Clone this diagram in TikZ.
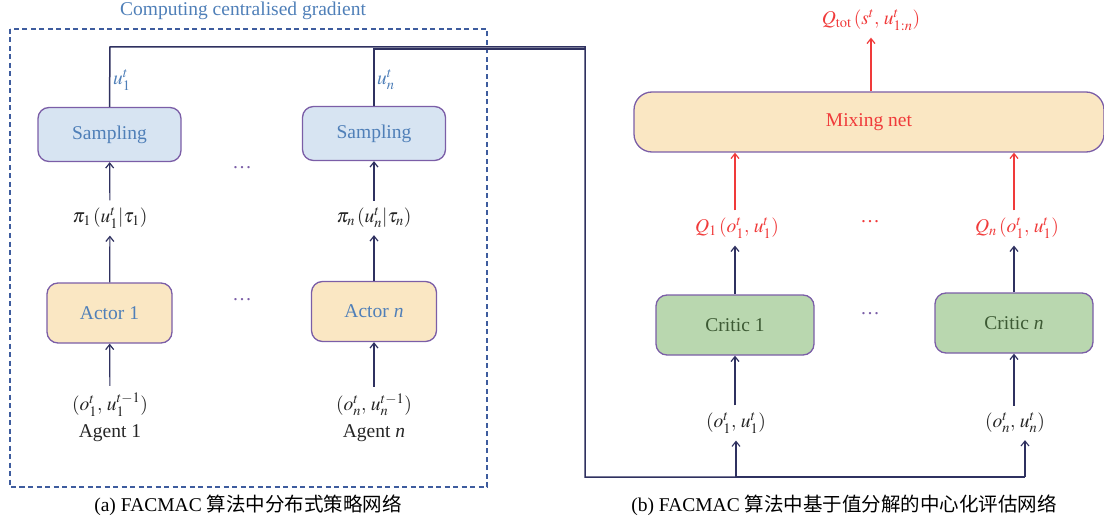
\documentclass[tikz,border=0pt]{standalone}
\usepackage{mathptmx}
\usepackage{fontspec}
\setmainfont{Liberation Serif}
\newfontfamily\cjk{Noto Sans CJK SC}
\usetikzlibrary{arrows.meta}
\definecolor{dashblue}{HTML}{3E5C9E}
\definecolor{txtblue}{HTML}{4F7FB8}
\definecolor{boxborder}{HTML}{7B5EA7}
\definecolor{sampfill}{HTML}{D7E4F2}
\definecolor{actfill}{HTML}{FAE7C3}
\definecolor{critfill}{HTML}{B9D7AF}
\definecolor{critxt}{HTML}{3D5A34}
\definecolor{qred}{HTML}{F03A3A}
\definecolor{lnavy}{HTML}{2F3160}
\tikzset{
  fs/.style={font=\fontsize{19.5}{22}\selectfont},
  nbox/.style={draw=boxborder, line width=1.3pt, rounded corners=11pt, inner sep=0pt, fs},
  sbox/.style={nbox, fill=sampfill, text=txtblue, minimum width=143pt, minimum height=54pt},
  abox/.style={nbox, fill=actfill, text=txtblue, minimum width=125pt, minimum height=60pt},
  cbox/.style={nbox, fill=critfill, text=critxt, minimum width=158pt, minimum height=60pt},
  mbox/.style={nbox, fill=actfill, text=qred, minimum width=470pt, minimum height=60pt, rounded corners=18pt},
  lbl/.style={fs, inner sep=7pt, text=black!85},
  rlbl/.style={lbl, text=qred},
  conn/.style={draw=lnavy, line width=1.2pt, -{Straight Barb[length=5pt,width=8pt]}},
  rconn/.style={conn, draw=qred},
  trunk/.style={draw=lnavy, line width=1.5pt},
  dotsp/.style={fs, text=boxborder},
}
\begin{document}
\begin{tikzpicture}[x=1pt,y=-1pt]
\useasboundingbox (0,0) rectangle (1104,524);
% ---------- left panel ----------
\node[fs, text=txtblue] (title) at (243,11) {Computing centralised gradient};
\draw[dashblue, line width=1.1pt, dash pattern=on 5pt off 3.5pt] (10,29) rectangle (487,487);

\node[sbox] (s1) at (109.5,134.5) {Sampling};
\node[sbox] (sn) at (374,133.5) {Sampling};
\node[abox] (a1) at (109.5,313) {Actor 1};
\node[abox] (an) at (374,311.5) {Actor \textit{n}};

\node[lbl] (p1) at (110,218) {$\pi_1\,(u_1^t|\tau_1)$};
\node[lbl] (pn) at (374,218) {$\pi_n\,(u_n^t|\tau_n)$};
\node[lbl] (o1) at (110,405) {$(o_1^t,\,u_1^{t-1})$};
\node[lbl, inner sep=2pt] (g1) at (110,433) {Agent 1};
\node[lbl] (on) at (374,405) {$(o_n^t,\,u_n^{t-1})$};
\node[lbl, inner sep=2pt] (gn) at (374,433) {Agent \textit{n}};

\node[fs, text=txtblue, anchor=west, inner sep=1pt] (u1) at (112,80) {$u_1^t$};
\node[fs, text=txtblue, anchor=west, inner sep=1pt] (un) at (376,80) {$u_n^t$};

\node[dotsp] (d1) at (242,168) {\dots};
\node[dotsp] (d2) at (242,300) {\dots};

\draw[conn] (o1) -- (a1);
\draw[conn] (on) -- (an);
\draw[conn] (a1) -- (p1);
\draw[conn] (an) -- (pn);
\draw[conn] (p1) -- (s1);
\draw[conn] (pn) -- (sn);

\node[font=\fontsize{19.5}{22}\selectfont] (capa) at (248,505) {(a) FACMAC {\cjk 算法中分布式策略网络}};

% ---------- right panel ----------
\node[mbox] (mix) at (869,122) {Mixing net};
\node[cbox] (c1) at (735,325) {Critic 1};
\node[cbox] (cn) at (1014,323) {Critic \textit{n}};

\node[rlbl] (qt) at (871,20) {$Q_{\mathrm{tot}}\,(s^t,\,u_{1:n}^t)$};
\node[rlbl] (q1) at (737,228) {$Q_1\,(o_1^t,\,u_1^t)$};
\node[rlbl] (qn) at (1017,228) {$Q_n\,(o_1^t,\,u_1^t)$};
\node[fs, text=qred] (d3) at (870,222) {\dots};
\node[dotsp] (d4) at (870,314) {\dots};

\node[lbl] (oc1) at (736,423) {$(o_1^t,\,u_1^t)$};
\node[lbl] (ocn) at (1015,423) {$(o_n^t,\,u_n^t)$};

\coordinate (q1top) at (c1.north |- q1.north);
\coordinate (qntop) at (cn.north |- qn.north);
\draw[rconn] (mix.north -| qt) -- (qt);
\draw[rconn] (q1top) -- (q1top |- mix.south);
\draw[rconn] (qntop) -- (qntop |- mix.south);
\draw[conn] (c1.north) -- (c1.north |- q1.south);
\draw[conn] (cn.north) -- (cn.north |- qn.south);
\draw[conn] (oc1.north -| c1) -- (c1.south);
\draw[conn] (ocn.north -| cn) -- (cn.south);

% ---------- gradient trunk ----------
\coordinate (tl) at (110,47);
\coordinate (tn) at (374,49);
\coordinate (tr) at (585,47);
\coordinate (br) at (585,477);
\coordinate (b1) at (736,477);
\coordinate (bn) at (1025,477);
\draw[trunk] (s1.north) -- (tl) -- (tr) -- (br) -- (b1);
\draw[draw=lnavy, line width=1.2pt] (sn.north) -- (tn) -- (tn -| tr);
\draw[draw=lnavy, line width=1.1pt] (b1) -- (bn);
\draw[conn, line width=1.1pt] (b1) -- (b1 |- oc1.south);
\draw[conn, line width=1.1pt] (bn) -- (bn |- ocn.south);

\node[font=\fontsize{19.5}{22}\selectfont] (capb) at (844,505) {(b) FACMAC {\cjk 算法中基于值分解的中心化评估网络}};
\end{tikzpicture}
\end{document}
